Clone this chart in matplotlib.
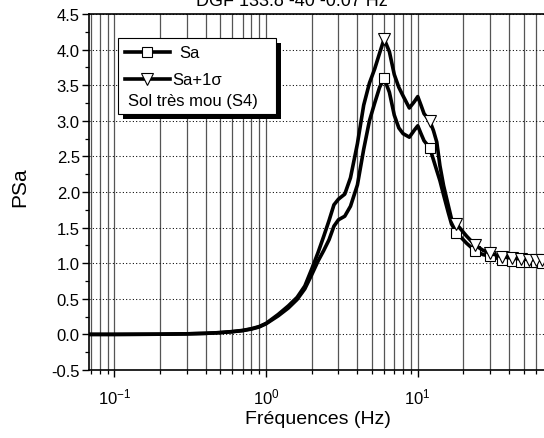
import numpy as np
import matplotlib
matplotlib.use("Agg")
import matplotlib.pyplot as plt
from matplotlib.lines import Line2D
from matplotlib.patches import Rectangle
from matplotlib.ticker import LogLocator, MultipleLocator, NullFormatter
import matplotlib.transforms as mtransforms

plt.rcParams["font.family"] = ["Liberation Sans", "DejaVu Sans"]
plt.rcParams["mathtext.fontset"] = "custom"
plt.rcParams["mathtext.rm"] = "Liberation Sans"
plt.rcParams["mathtext.it"] = "Liberation Sans:italic"
plt.rcParams["axes.unicode_minus"] = False

# Spectral ordinates: mean (Sa) and mean + one standard deviation
freq = [0.0684, 0.1, 0.2, 0.3, 0.4, 0.5, 0.6, 0.7, 0.8, 0.9, 1.0, 1.2, 1.4,
        1.6, 1.8, 2.0, 2.2, 2.4, 2.6, 2.8, 3.0, 3.3, 3.6, 4.0, 4.4, 4.8,
        5.2, 5.6, 6.0, 6.5, 7.0, 7.5, 8.0, 8.8, 9.5, 10.0, 10.5, 11.0,
        12.0, 12.7, 13.35, 14.0, 14.8, 15.9, 16.7, 18.0, 21.0, 24.0, 27.0,
        30.0, 36.0, 42.0, 48.0, 54.0, 60.0, 66.0, 68.0]

sa = [0.0, 0.0, 0.003, 0.008, 0.015, 0.025, 0.038, 0.053, 0.075, 0.105,
      0.15, 0.26, 0.37, 0.49, 0.64, 0.84, 1.03, 1.18, 1.33, 1.52, 1.61,
      1.66, 1.80, 2.10, 2.60, 3.00, 3.25, 3.47, 3.60, 3.40, 3.08, 2.90,
      2.82, 2.77, 2.87, 2.93, 2.82, 2.72, 2.62, 2.45, 2.30, 2.16, 1.96,
      1.71, 1.55, 1.43, 1.28, 1.17, 1.12, 1.10, 1.05, 1.03, 1.02, 1.01,
      1.01, 1.00, 1.00]

sa_sigma = [0.0, 0.0, 0.003, 0.008, 0.015, 0.026, 0.040, 0.056, 0.080,
            0.110, 0.155, 0.28, 0.40, 0.52, 0.68, 0.92, 1.15, 1.38, 1.60,
            1.82, 1.90, 1.97, 2.20, 2.68, 3.22, 3.53, 3.73, 3.95, 4.15,
            3.97, 3.65, 3.47, 3.35, 3.18, 3.27, 3.34, 3.22, 3.10, 3.00,
            2.86, 2.70, 2.37, 2.09, 1.81, 1.62, 1.55, 1.38, 1.25, 1.18,
            1.14, 1.09, 1.07, 1.06, 1.05, 1.05, 1.04, 1.04]

title = "DGF 133.8 -40 -0.07 Hz"
soil_label = "Sol très mou (S4)"

f = np.array(freq)
marks = [i for i, v in enumerate(f) if v >= 5.9 and abs(v / 6 - round(v / 6)) < 1e-6]

fig = plt.figure(figsize=(5.44, 4.39), dpi=100)
ax = fig.add_axes([0.1645, 0.1549, 0.8355, 0.8109])

ax.set_xscale("log")
ax.set_xlim(0.0684, 68)
ax.set_ylim(-0.5, 4.5)

# grid: solid verticals at every log tick, dotted horizontals at majors
ax.grid(which="both", axis="x", color="#555555", lw=0.9, ls="-", zorder=0)
ax.grid(which="major", axis="y", color="black", lw=0.75, ls=(0, (1, 2.2)), zorder=0)
ax.set_axisbelow(True)

lw = 2.6
ax.plot(f, sa, color="black", lw=lw, marker="s", ms=7.0, mfc="white",
        mec="black", mew=0.8, markevery=marks, zorder=3, solid_joinstyle="round")
ax.plot(f, sa_sigma, color="black", lw=lw, marker="v", ms=8.6, mfc="white",
        mec="black", mew=0.8, markevery=marks, zorder=4, solid_joinstyle="round")

# axes styling
ax.yaxis.set_major_locator(MultipleLocator(0.5))
ax.yaxis.set_minor_locator(MultipleLocator(0.25))
ax.yaxis.set_major_formatter(matplotlib.ticker.FormatStrFormatter("%.1f"))
ax.xaxis.set_major_locator(LogLocator(base=10, numticks=10))
ax.xaxis.set_minor_locator(LogLocator(base=10, subs=np.arange(2, 10), numticks=50))
ax.xaxis.set_minor_formatter(NullFormatter())
ax.tick_params(which="major", direction="out", length=5, width=1.0,
               labelsize=12, pad=2, colors="black")
ax.tick_params(which="minor", direction="out", length=3, width=0.9)
ax.tick_params(axis="x", which="major", pad=7)
for side in ("left", "bottom", "top"):
    ax.spines[side].set_linewidth(1.2)
    ax.spines[side].set_color("black")
ax.spines["right"].set_visible(False)

# legend box with drop shadow
bx0, by0, bw, bh = 0.0634, 0.719, 0.3463, 0.2136
shadow_tr = ax.transAxes + mtransforms.ScaledTranslation(5 / 100, -4.5 / 100, fig.dpi_scale_trans)
ax.add_patch(Rectangle((bx0, by0), bw, bh, transform=shadow_tr, fc="black",
                       ec="black", lw=0, zorder=6, clip_on=False))
ax.add_patch(Rectangle((bx0, by0), bw, bh, transform=ax.transAxes, fc="white",
                       ec="black", lw=0.8, zorder=7, clip_on=False))

for yy, mk, ms, lab, tx in [(0.893, "s", 7.0, "Sa", 0.197),
                             (0.817, "v", 8.6, "Sa+1\u03c3", 0.183)]:
    ax.add_artist(Line2D([0.0783, 0.1771], [yy, yy], transform=ax.transAxes,
                         color="black", lw=lw, zorder=8, clip_on=False))
    ax.add_artist(Line2D([0.1276], [yy], transform=ax.transAxes, ls="none",
                         marker=mk, ms=ms, mfc="white", mec="black", mew=0.8,
                         zorder=9, clip_on=False))
    ax.text(tx, yy, lab, transform=ax.transAxes, va="center", ha="left",
            fontsize=12, zorder=9)
ax.text(0.0847, 0.756, soil_label, transform=ax.transAxes, va="center",
        ha="left", fontsize=12, zorder=9)

# labels and (cropped) title
fig.text(20 / 544, 1 - 187 / 439, "PSa", rotation=90, va="center", ha="center",
         fontsize=15)
fig.text(318 / 544, 1 - 420 / 439, "Fréquences (Hz)", va="center", ha="center",
         fontsize=14)
fig.text(292 / 544, 1 - 6 / 439, title, va="baseline", ha="center", fontsize=13)

fig.savefig("out.png", dpi=100)
